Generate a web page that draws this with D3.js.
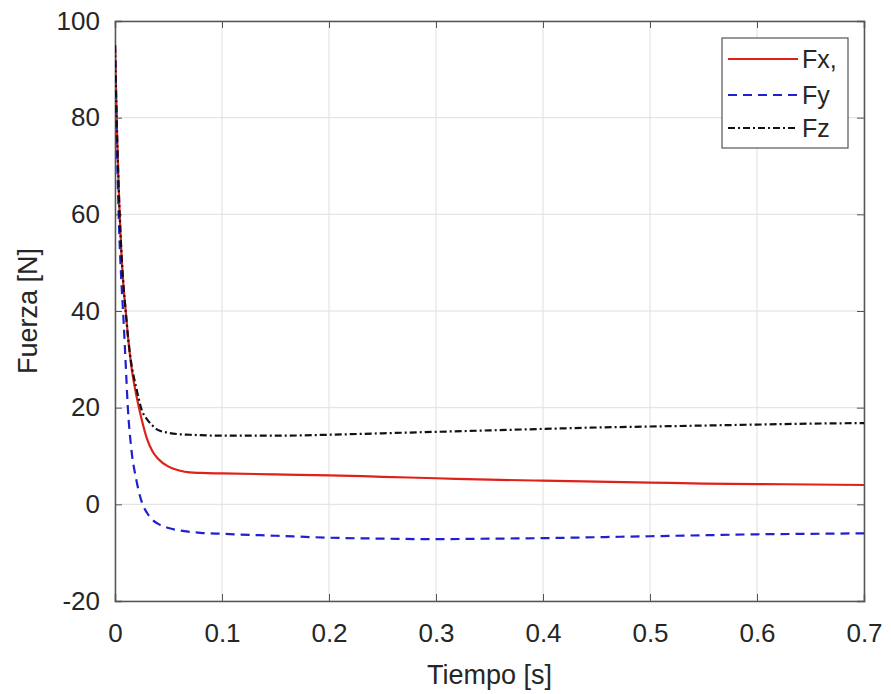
<!DOCTYPE html>
<html><head><meta charset="utf-8">
<script src="https://cdn.jsdelivr.net/npm/d3@7"></script>
<style>body{margin:0;background:#fff;} text{font-family:"Liberation Sans",Arial,sans-serif;fill:#262626;}</style>
</head><body>
<svg id="c" width="891" height="694"></svg>
<script>
const time = [0, 0.002, 0.004, 0.006, 0.008, 0.01, 0.012, 0.015, 0.02, 0.025, 0.03, 0.035, 0.04, 0.05, 0.06, 0.07, 0.08, 0.1, 0.15, 0.2, 0.25, 0.3, 0.35, 0.4, 0.45, 0.5, 0.55, 0.6, 0.65, 0.7];
const fx = [95, 76, 62, 52, 45, 40, 35, 29, 22.5, 17.5, 13.5, 11, 9.5, 7.8, 7.0, 6.6, 6.5, 6.4, 6.2, 6.0, 5.7, 5.4, 5.1, 4.9, 4.7, 4.5, 4.3, 4.2, 4.1, 4.0];
const fy = [95, 72, 56, 46, 38, 29, 20, 12, 5, 0.5, -1.8, -3.2, -4.0, -4.9, -5.4, -5.7, -5.9, -6.1, -6.5, -6.9, -7.1, -7.2, -7.1, -7.0, -6.8, -6.6, -6.4, -6.2, -6.1, -6.0];
const fz = [95, 76, 62, 52, 45, 40, 35, 29.5, 24, 19.5, 17.6, 16.3, 15.4, 14.8, 14.5, 14.4, 14.3, 14.2, 14.2, 14.4, 14.7, 15.0, 15.3, 15.6, 15.9, 16.1, 16.3, 16.5, 16.7, 16.8];
const xTicks = [0, 0.1, 0.2, 0.3, 0.4, 0.5, 0.6, 0.7];
const yTicks = [-20, 0, 20, 40, 60, 80, 100];
const seriesNames = ["Fx,", "Fy", "Fz"];

const L = 115, R = 864, T = 21, B = 601;
const svg = d3.select("#c");
const x = d3.scaleLinear().domain([0, 0.7]).range([L, R]);
const y = d3.scaleLinear().domain([-20, 100]).range([B, T]);
const axisCol = "#262626";

// grid
const g = svg.append("g");
g.selectAll(".gx").data(xTicks).enter().append("line")
  .attr("x1", d => x(d)).attr("x2", d => x(d)).attr("y1", T).attr("y2", B)
  .attr("stroke", "#dfdfdf").attr("stroke-width", 1);
g.selectAll(".gy").data(yTicks).enter().append("line")
  .attr("y1", d => y(d)).attr("y2", d => y(d)).attr("x1", L).attr("x2", R)
  .attr("stroke", "#dfdfdf").attr("stroke-width", 1);

// axes (ticks inward)
const tl = 7;
const xb = svg.append("g").attr("transform", `translate(0,${B})`)
  .call(d3.axisBottom(x).tickValues(xTicks).tickSize(-tl).tickPadding(23).tickFormat(d => d === 0 ? "0" : d3.format(".1f")(d)));
const xt = svg.append("g").attr("transform", `translate(0,${T})`)
  .call(d3.axisTop(x).tickValues(xTicks).tickSize(-tl).tickFormat(""));
const yl = svg.append("g").attr("transform", `translate(${L},0)`)
  .call(d3.axisLeft(y).tickValues(yTicks).tickSize(-tl).tickPadding(15).tickFormat(d => String(d)));
const yr = svg.append("g").attr("transform", `translate(${R},0)`)
  .call(d3.axisRight(y).tickValues(yTicks).tickSize(-tl).tickFormat(""));
[xb, xt, yl, yr].forEach(a => {
  a.select(".domain").attr("stroke", "#555").attr("stroke-width", 1.5);
  a.selectAll(".tick line").attr("stroke", "#555").attr("stroke-width", 1);
  a.selectAll("text").attr("font-size", 26).attr("font-family", "Liberation Sans, Arial, sans-serif").attr("fill", axisCol);
});

// lines
const lineGen = vals => d3.line().x((d, i) => x(time[i])).y(d => y(d)).curve(d3.curveMonotoneX)(vals);
const styles = [
  {data: fx, color: "#e0201b", dash: null, w: 2.2},
  {data: fy, color: "#2020d0", dash: "9,6", w: 2.2},
  {data: fz, color: "#111111", dash: "7,3,2,3", w: 2.2}
];
svg.append("clipPath").attr("id", "clp").append("rect").attr("x", L).attr("y", T).attr("width", R - L).attr("height", B - T);
const lg = svg.append("g").attr("clip-path", "url(#clp)");
styles.forEach(s => {
  lg.append("path").attr("d", lineGen(s.data)).attr("fill", "none")
    .attr("stroke", s.color).attr("stroke-width", s.w)
    .attr("stroke-dasharray", s.dash);
});

// axis labels
svg.append("text").attr("x", (L + R) / 2).attr("y", 684).attr("text-anchor", "middle")
  .attr("font-size", 27).text("Tiempo [s]");
svg.append("text").attr("transform", `translate(37,${(T + B) / 2}) rotate(-90)`).attr("text-anchor", "middle")
  .attr("font-size", 27).text("Fuerza [N]");

// legend
const leg = svg.append("g");
leg.append("rect").attr("x", 722).attr("y", 38).attr("width", 126).attr("height", 110)
  .attr("fill", "#fff").attr("stroke", "#555").attr("stroke-width", 1.2);
const ly = [59, 95, 128];
styles.forEach((s, i) => {
  leg.append("line").attr("x1", 728).attr("x2", 798).attr("y1", ly[i]).attr("y2", ly[i])
    .attr("stroke", s.color).attr("stroke-width", s.w).attr("stroke-dasharray", s.dash);
  leg.append("text").attr("x", 802).attr("y", ly[i] + 9).attr("font-size", 25).text(seriesNames[i]);
});
</script>
</body></html>
